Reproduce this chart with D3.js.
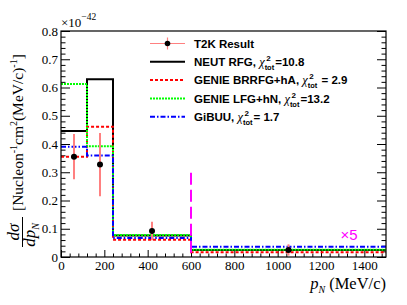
<!DOCTYPE html>
<html>
  <head>
    <meta charset="utf-8" />
    <style>
      body { margin: 0; background: #fff; }
      svg { display: block; }
    </style>
  </head>
  <body>
    <script src="https://d3js.org/d3.v7.min.js"></script>
    <script>
      // DATA (last bin is shown multiplied by 5)
      const binEdges = [0, 120, 240, 600, 1500];
      const t2kValues = [0.355, 0.327, 0.092, 0.025];
      const t2kErrors = [0.08, 0.112, 0.033, 0.02];
      const neutRFG = [0.446, 0.629, 0.076, 0.025];
      const genieBRRFG = [0.355, 0.461, 0.061, 0.017];
      const genieLFG = [0.612, 0.392, 0.078, 0.026];
      const gibuu = [0.39, 0.359, 0.067, 0.036];
      const xTicks = [0, 200, 400, 600, 800, 1000, 1200, 1400];
      const yTicks = [0, 0.1, 0.2, 0.3, 0.4, 0.5, 0.6, 0.7, 0.8];

      const series = [
        { name: "NEUT RFG, ", chi: "=10.8", values: neutRFG, color: "#000000", dash: null },
        { name: "GENIE BRRFG+hA, ", chi: " = 2.9", values: genieBRRFG, color: "#ff0000", dash: "3,2" },
        { name: "GENIE LFG+hN, ", chi: "=13.2", values: genieLFG, color: "#00ff00", dash: "2,1" },
        { name: "GiBUU, ", chi: "= 1.7", values: gibuu, color: "#0000ff", dash: "5,2,1.5,2" },
      ];

      const width = 407, height = 305;
      const margin = { top: 31, right: 21, bottom: 48, left: 61 };
      const serif = "'Liberation Serif', 'Times New Roman', serif";
      const sans = "'Liberation Sans', Arial, sans-serif";

      const svg = d3.select("body").append("svg").attr("width", width).attr("height", height);

      const x = d3.scaleLinear().domain([0, 1500]).range([margin.left, width - margin.right]);
      const y = d3.scaleLinear().domain([0, 0.8]).range([height - margin.bottom, margin.top]);

      // minor ticks
      const xMinor = d3.range(0, 1501, 40).filter((v) => v % 200 !== 0);
      const yMinor = d3.range(0, 0.801, 0.02).filter((v) => Math.abs(v * 10 - Math.round(v * 10)) > 0.01);

      const gx = svg.append("g").attr("transform", `translate(0,${y(0)})`);
      gx.call(d3.axisBottom(x).tickValues(xTicks).tickSize(-7).tickPadding(4).tickFormat(d3.format("d")));
      gx.append("g").call(d3.axisBottom(x).tickValues(xMinor).tickSize(-3.5).tickFormat(""));
      gx.selectAll(".domain").remove();

      const gy = svg.append("g").attr("transform", `translate(${x(0)},0)`);
      gy.call(d3.axisLeft(y).tickValues(yTicks).tickSize(-9).tickPadding(3).tickFormat((d) => (d === 0 ? "0" : d3.format(".1f")(d))));
      gy.append("g").call(d3.axisLeft(y).tickValues(yMinor).tickSize(-4.5).tickFormat(""));
      gy.selectAll(".domain").remove();

      const gr = svg.append("g").attr("transform", `translate(${x(1500)},0)`);
      gr.call(d3.axisRight(y).tickValues(yTicks).tickSize(-9).tickFormat(""));
      gr.append("g").call(d3.axisRight(y).tickValues(yMinor).tickSize(-4.5).tickFormat(""));
      gr.selectAll(".domain").remove();

      svg.selectAll(".tick line").attr("stroke", "#000").attr("stroke-width", 1);
      svg.selectAll(".tick text")
        .style("font-family", serif)
        .style("font-size", "13px")
        .attr("fill", "#000");

      // histograms
      const step = d3.line().x((d) => x(d[0])).y((d) => y(d[1])).curve(d3.curveStepAfter);
      series.forEach((s) => {
        const pts = s.values.map((v, i) => [binEdges[i], v]);
        pts.push([binEdges[binEdges.length - 1], s.values[s.values.length - 1]]);
        svg.append("path")
          .attr("d", step(pts))
          .attr("fill", "none")
          .attr("stroke", s.color)
          .attr("stroke-width", 2)
          .attr("stroke-dasharray", s.dash);
      });

      // x5 marker line at 600
      svg.append("line")
        .attr("x1", x(600)).attr("x2", x(600))
        .attr("y1", y(0.298)).attr("y2", y(0))
        .attr("stroke", "#ff00ff").attr("stroke-width", 2).attr("stroke-dasharray", "12,5");
      svg.append("text")
        .attr("x", x(1290)).attr("y", y(0.06))
        .attr("fill", "#ff00ff")
        .style("font-family", sans)
        .style("font-size", "15px")
        .text("×5");

      // T2K data points
      const centers = binEdges.slice(0, -1).map((e, i) => (e + binEdges[i + 1]) / 2);
      const pts = t2kValues.map((v, i) => ({ x: centers[i], v, e: t2kErrors[i] }));
      svg.selectAll("line.err").data(pts).enter().append("line")
        .attr("class", "err")
        .attr("x1", (d) => x(d.x)).attr("x2", (d) => x(d.x))
        .attr("y1", (d) => y(d.v - d.e)).attr("y2", (d) => y(d.v + d.e))
        .attr("stroke", "#ff8080").attr("stroke-width", 2);
      svg.selectAll("circle.pt").data(pts).enter().append("circle")
        .attr("class", "pt")
        .attr("cx", (d) => x(d.x)).attr("cy", (d) => y(d.v))
        .attr("r", 3).attr("fill", "#000");

      // frame
      svg.append("rect")
        .attr("x", x(0)).attr("y", y(0.8))
        .attr("width", x(1500) - x(0)).attr("height", y(0) - y(0.8))
        .attr("fill", "none").attr("stroke", "#000").attr("stroke-width", 1.2);

      // legend
      const lx0 = 150, lx1 = 185, ltx = 194, ly0 = 43.5, ldy = 18.3;
      const leg = svg.append("g")
        .style("font-family", sans)
        .style("font-weight", "bold")
        .style("font-size", "11.5px");
      leg.append("line").attr("x1", lx0).attr("x2", lx1).attr("y1", ly0).attr("y2", ly0)
        .attr("stroke", "#ff8080").attr("stroke-width", 1.2);
      leg.append("line").attr("x1", (lx0 + lx1) / 2).attr("x2", (lx0 + lx1) / 2).attr("y1", ly0 - 6).attr("y2", ly0 + 6)
        .attr("stroke", "#ff8080").attr("stroke-width", 1.2);
      leg.append("circle").attr("cx", (lx0 + lx1) / 2).attr("cy", ly0).attr("r", 2.8).attr("fill", "#000");
      leg.append("text").attr("x", ltx).attr("y", ly0 + 4.2).text("T2K Result");

      series.forEach((s, i) => {
        const ly = ly0 + ldy * (i + 1);
        leg.append("line").attr("x1", lx0).attr("x2", lx1).attr("y1", ly).attr("y2", ly)
          .attr("stroke", s.color).attr("stroke-width", 2).attr("stroke-dasharray", s.dash);
        const t = leg.append("text").attr("x", ltx).attr("y", ly + 4.2);
        t.append("tspan").text(s.name);
        t.append("tspan").style("font-family", serif).style("font-style", "italic")
          .style("font-weight", "normal").style("font-size", "12.5px").text("χ");
        t.append("tspan").attr("dy", -5).attr("dx", 1.5).style("font-size", "8px").text("2");
        t.append("tspan").attr("dy", 9).attr("dx", -6).style("font-size", "7.5px").text("tot");
        t.append("tspan").attr("dy", -4).attr("dx", 1).text(s.chi);
      });

      // exponent label
      const ex = svg.append("text").attr("x", x(0)).attr("y", 27)
        .style("font-family", serif).style("font-size", "13px");
      ex.append("tspan").text("×10");
      ex.append("tspan").attr("dy", -7).style("font-size", "9.5px").text("−42");

      // x title
      const xt = svg.append("text").attr("x", x(1500)).attr("y", 289).attr("text-anchor", "end")
        .style("font-family", serif).style("font-size", "16.5px");
      xt.append("tspan").style("font-style", "italic").text("p");
      xt.append("tspan").attr("dy", 4).style("font-size", "10px").style("font-style", "italic").text("N");
      xt.append("tspan").attr("dy", -4).text(" (MeV/c)");

      // y title (rotated)
      const yt = svg.append("g").attr("transform", "rotate(-90)")
        .style("font-family", serif);
      const fy = -232;
      yt.append("text").attr("x", fy).attr("y", 19).attr("text-anchor", "middle")
        .style("font-style", "italic").style("font-size", "17px").text("dσ");
      yt.append("line").attr("x1", fy - 15).attr("x2", fy + 15).attr("y1", 22.5).attr("y2", 22.5)
        .attr("stroke", "#000").attr("stroke-width", 1);
      const den = yt.append("text").attr("x", fy - 3).attr("y", 35).attr("text-anchor", "middle")
        .style("font-style", "italic").style("font-size", "17px");
      den.append("tspan").text("dp");
      den.append("tspan").attr("dy", 4).style("font-size", "10px").text("N");
      const br = yt.append("text").attr("x", -211).attr("y", 23)
        .style("font-size", "15.5px");
      br.append("tspan").text("[Nucleon");
      br.append("tspan").attr("dy", -6).style("font-size", "10px").text("-1");
      br.append("tspan").attr("dy", 6).text("cm");
      br.append("tspan").attr("dy", -6).style("font-size", "10px").text("2");
      br.append("tspan").attr("dy", 6).text("(MeV/c)");
      br.append("tspan").attr("dy", -6).style("font-size", "10px").text("-1");
      br.append("tspan").attr("dy", 6).text("]");
    </script>
  </body>
</html>
